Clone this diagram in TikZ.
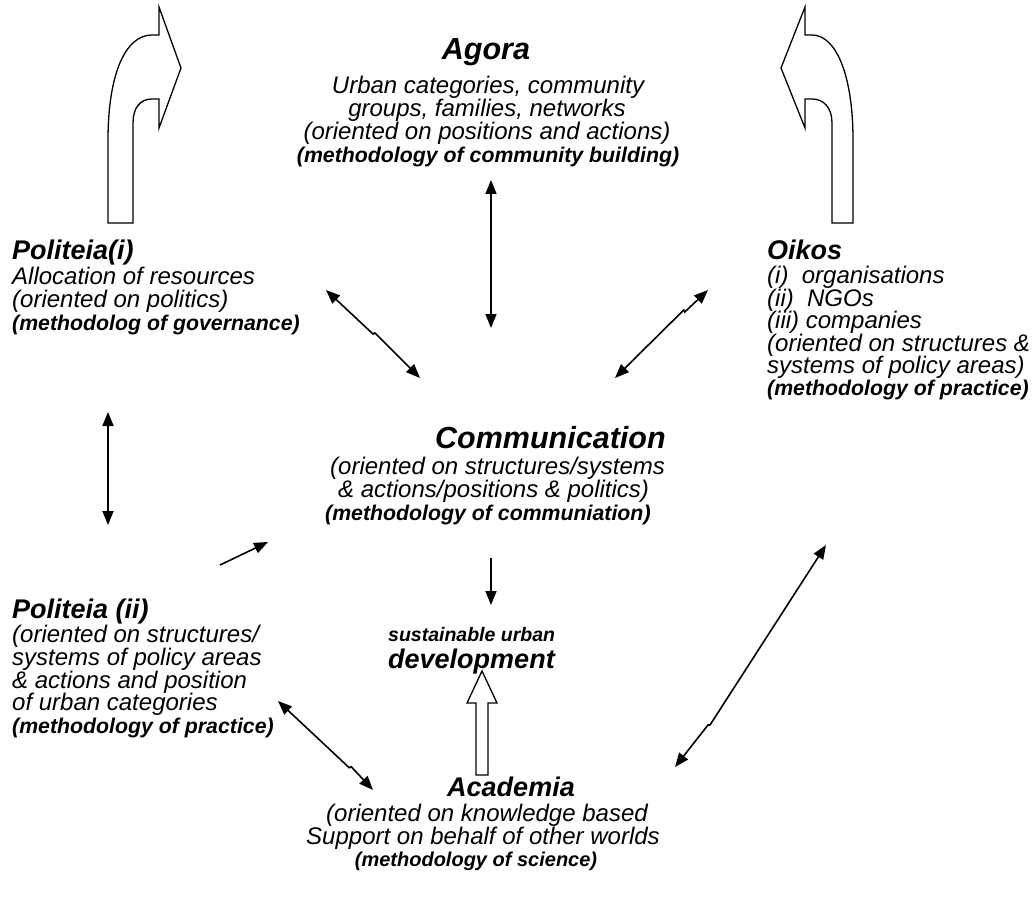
\documentclass[tikz,border=0pt]{standalone}
\usepackage{fontspec}
\setmainfont{Liberation Sans}
\usetikzlibrary{arrows.meta,calc}

\begin{document}
\begin{tikzpicture}[x=1pt,y=-1pt,
  txt/.style={inner sep=0pt,text height=17pt,text depth=4.5pt},
  reg/.style={txt,font=\fontsize{24}{26}\selectfont\itshape},
  bld/.style={inner sep=0pt,text height=15pt,text depth=4pt,font=\fontsize{21.3}{24}\selectfont\bfseries\itshape},
  bldl/.style={inner sep=0pt,text height=15pt,text depth=4pt,font=\fontsize{20}{22}\selectfont\bfseries\itshape},
  small/.style={inner sep=0pt,text height=15pt,text depth=4pt,font=\fontsize{19.5}{22}\selectfont\bfseries\itshape},
  head/.style={inner sep=0pt,text height=20pt,text depth=2pt,font=\fontsize{27}{29}\selectfont\bfseries\itshape},
  big/.style={inner sep=0pt,text height=22pt,text depth=2pt,font=\fontsize{30.5}{32}\selectfont\bfseries\itshape},
  link/.style={line width=1.6pt,{Triangle[length=14pt,width=11pt]}-{Triangle[length=14pt,width=11pt]}},
  oneway/.style={line width=1.6pt,-{Triangle[length=14pt,width=11pt]}},
  hollow/.style={draw,line width=1.3pt,fill=white,line join=miter}]

\useasboundingbox (0,0) rectangle (1033,904);

% ---------- Agora ----------
\node[big,anchor=base] (agora) at (486,60) {Agora};
\node[reg,anchor=base] (ag1) at (488,94) {Urban categories, community};
\node[reg,anchor=base] (ag2) at (487,117) {groups, families, networks};
\node[reg,anchor=base] (ag3) at (487,140) {(oriented on positions and actions)};
\node[bld,anchor=base] (ag4) at (488,163) {(methodology of community building)};

% ---------- Politeia (i) ----------
\node[head,anchor=base west] (pa) at (12,259) {Politeia(i)};
\node[reg,anchor=base west] (pa1) at (12,284) {Allocation of resources};
\node[reg,anchor=base west] (pa2) at (12,307) {(oriented on politics)};
\node[bld,anchor=base west] (pa3) at (12,330) {(methodolog of governance)};

% ---------- Oikos ----------
\node[head,anchor=base west] (oi) at (767,259) {Oikos};
\node[reg,anchor=base west] (oi1) at (767,283) {(i)\ \ organisations};
\node[reg,anchor=base west] (oi2) at (767,306) {(ii)\ \ NGOs};
\node[reg,anchor=base west] (oi3) at (767,328) {(iii) companies};
\node[reg,anchor=base west] (oi4) at (767,351) {(oriented on structures \&};
\node[reg,anchor=base west] (oi5) at (767,373) {systems of policy areas)};
\node[bld,anchor=base west] (oi6) at (767,395) {(methodology of practice)};

% ---------- Communication ----------
\node[big,anchor=base west] (co) at (435,448) {Communication};
\node[reg,anchor=base west] (co1) at (330,474) {(oriented on structures/systems};
\node[reg,anchor=base west] (co2) at (338,497) {\& actions/positions \& politics)};
\node[bld,anchor=base west] (co3) at (325,520) {(methodology of communiation)};

% ---------- Politeia (ii) ----------
\node[head,anchor=base west] (pb) at (12,618) {Politeia (ii)};
\node[reg,anchor=base west] (pb1) at (12,642) {(oriented on structures/};
\node[reg,anchor=base west] (pb2) at (12,665) {systems of policy areas};
\node[reg,anchor=base west] (pb3) at (12,688) {\& actions and position};
\node[reg,anchor=base west] (pb4) at (12,710) {of urban categories};
\node[bld,anchor=base west] (pb5) at (12,733) {(methodology of practice)};

% ---------- sustainable urban development ----------
\node[small,anchor=base west] (su1) at (388,641) {sustainable urban};
\node[head,anchor=base west] (su2) at (388,668) {development};

% ---------- Academia ----------
\node[head,anchor=base] (ac) at (511,796) {Academia};
\node[reg,anchor=base] (ac1) at (487,821) {(oriented on knowledge based};
\node[reg,anchor=base] (ac2) at (483,844) {Support on behalf of other worlds};
\node[bldl,anchor=base] (ac3) at (476,866) {(methodology of science)};

% ---------- connector end points ----------
\coordinate (agT) at (491,180);
\coordinate (agB) at (491,328);
\coordinate (pcA) at (326,290);
\coordinate (pcB) at (420,378);
\coordinate (ocA) at (708,290);
\coordinate (ocB) at (615,378);
\coordinate (ppA) at (108,412);
\coordinate (ppB) at (108,525);
\coordinate (lcA) at (220,565);
\coordinate (lcB) at (268,542);
\coordinate (csA) at (491,558);
\coordinate (csB) at (491,605);
\coordinate (paA) at (278,701);
\coordinate (paB) at (373,790);
\coordinate (oaA) at (826,545);
\coordinate (oaK) at (710,725);
\coordinate (oaB) at (675,767);

% ---------- connectors ----------
\draw[link] (agT) -- (agB);
\draw[link] (pcA) -- ($(pcA)!0.5!(pcB)$) -- ($(pcA)!0.5!(pcB)+(2,-1)$) -- (pcB);
\draw[link] (ocA) -- ($(ocA)!0.25!(ocB)$) -- ($(ocA)!0.25!(ocB)+(-1,-2)$) -- (ocB);
\draw[link] (ppA) -- (ppB);
\draw[oneway] (lcA) -- (lcB);
\draw[oneway] (csA) -- (csB);
\draw[link] (paA) -- ($(paA)!0.75!(paB)$) -- ($(paA)!0.75!(paB)+(2,-1)$) -- (paB);
\draw[link] (oaA) -- (oaK) -- ($(oaK)+(-2,0)$) -- (oaB);

% ---------- hollow block arrows ----------
\draw[hollow] (108,223) -- (108,140) .. controls (108,75) and (125,35) .. (152,35)
  -- (159,35) -- (159,7) -- (181,68) -- (159,128) -- (159,99) -- (152,99)
  .. controls (140,99) and (133,108) .. (133,123) -- (133,223) -- cycle;
\draw[hollow] (853,223) -- (853,140) .. controls (853,75) and (836,35) .. (812,35)
  -- (805,35) -- (805,7) -- (781,68) -- (805,128) -- (805,99) -- (812,99)
  .. controls (824,99) and (832,108) .. (832,123) -- (832,223) -- cycle;
\draw[hollow] (476,775) -- (476,703) -- (467,703) -- (482,671) -- (497,703)
  -- (488,703) -- (488,775) -- cycle;

\end{tikzpicture}
\end{document}
